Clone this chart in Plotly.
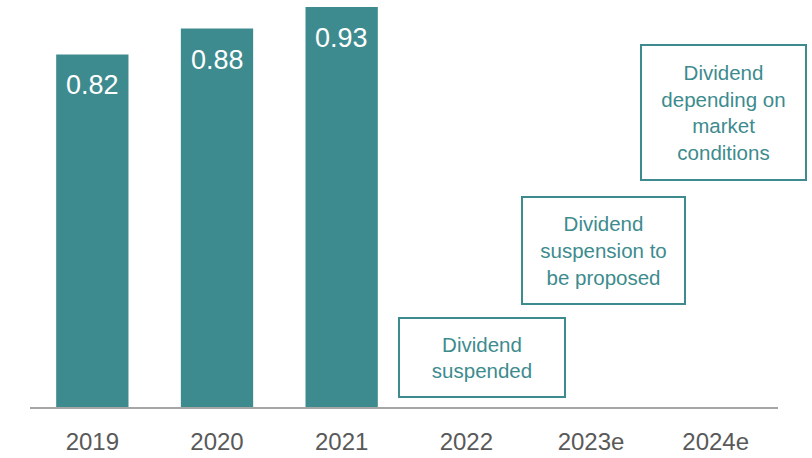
import plotly.graph_objects as go

years = ["2019", "2020", "2021", "2022", "2023e", "2024e"]
paid_years = ["2019", "2020", "2021"]
dividend = [0.82, 0.88, 0.93]
value_labels = ["0.82", "0.88", "0.93"]
notes = ["Dividend<br>suspended",
         "Dividend<br>suspension to<br>be proposed",
         "Dividend<br>depending on<br>market<br>conditions"]
note_years = ["2022", "2023e", "2024e"]

teal = "#3D8B8E"
font = "Liberation Sans, Arial, sans-serif"

fig = go.Figure()

fig.add_trace(go.Bar(
    x=paid_years, y=dividend, width=0.58,
    marker=dict(color=teal, line=dict(width=0)),
    hoverinfo="skip"
))

# values inside the bars (category index, since "2019" etc. would be read as numbers)
for yr, v, lab in zip(paid_years, dividend, value_labels):
    fig.add_annotation(x=years.index(yr), y=v, text=lab, showarrow=False,
                       yanchor="top", yshift=-14,
                       font=dict(family=font, size=27, color="white"))

# boxed notes for the years without a dividend
box_y = [0.1151, 0.364, 0.685]
box_w = [164, 161, 163]
box_h = [77, 105, 133]
box_dx = [16, 12, 8]
for yr, txt, yy, w, h, dx in zip(note_years, notes, box_y, box_w, box_h, box_dx):
    fig.add_annotation(x=years.index(yr), y=yy, text=txt, showarrow=False, xshift=dx,
                       width=w, height=h, align="center", valign="middle",
                       bordercolor=teal, borderwidth=2, borderpad=0,
                       font=dict(family=font, size=20.5, color=teal))

fig.update_layout(
    width=812, height=458,
    margin=dict(l=30, r=34, t=0, b=51),
    paper_bgcolor="white", plot_bgcolor="white",
    showlegend=False,
    xaxis=dict(type="category", categoryorder="array", categoryarray=years,
               tickmode="array", tickvals=years, ticktext=years,
               range=[-0.5, 5.5], autorange=False,
               showline=True, linecolor="#A6A6A6", linewidth=2,
               showgrid=False, ticks="", ticklabelstandoff=12, automargin=False,
               tickfont=dict(family=font, size=24, color="#595959")),
    yaxis=dict(range=[0, 0.9465], visible=False, showgrid=False),
)

fig.write_html("out.html", config={"displayModeBar": False},
               post_script="document.body.style.margin='0';")
